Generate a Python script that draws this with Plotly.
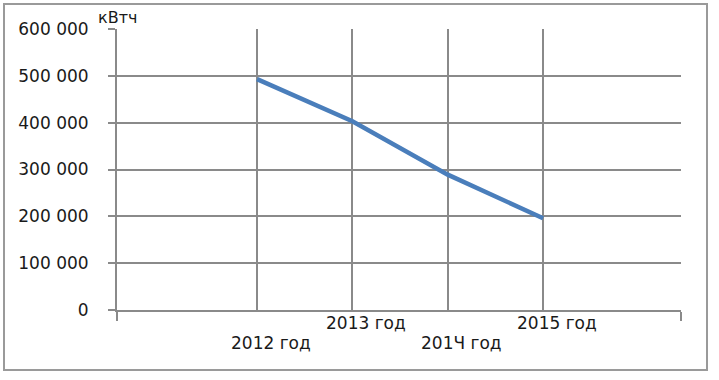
import plotly.graph_objects as go

years = [2012, 2013, 2014, 2015]
year_labels = ["2012 год", "2013 год", "201Ч год", "2015 год"]
energy_kwh = [493000, 403000, 289000, 196000]
y_ticks = [0, 100000, 200000, 300000, 400000, 500000, 600000]
y_tick_labels = ["0", "100 000", "200 000", "300 000", "400 000", "500 000", "600 000"]
unit_label = "кВтч"

GRID = "#8a8a8a"
FONT = "DejaVu Sans"
x_range = [2010.531, 2016.447]

fig = go.Figure()
fig.add_trace(go.Scatter(
    x=years, y=energy_kwh, mode="lines",
    line=dict(color="#4a7ebb", width=4.5),
    showlegend=False, hoverinfo="skip",
))

fig.update_layout(
    width=719, height=380,
    margin=dict(l=117, r=38, t=29, b=70),
    paper_bgcolor="white", plot_bgcolor="white",
    font=dict(family=FONT, size=16, color="#1a1a1a"),
    xaxis=dict(
        range=x_range, tickmode="array", tickvals=x_range,
        showticklabels=False, ticks="outside", ticklen=9, tickwidth=2, tickcolor=GRID,
        showgrid=False, zeroline=False,
        showline=True, linecolor=GRID, linewidth=2,
        minor=dict(tickmode="array", tickvals=years, showgrid=True,
                   gridcolor=GRID, gridwidth=2, ticks=""),
    ),
    yaxis=dict(
        range=[0, 600000], tickmode="array", tickvals=y_ticks, ticktext=y_tick_labels,
        showgrid=True, gridcolor=GRID, gridwidth=2, zeroline=False,
        showline=True, linecolor=GRID, linewidth=2,
        ticks="outside", ticklen=7, tickwidth=2, tickcolor=GRID,
        ticklabelstandoff=16,
        tickfont=dict(family=FONT, size=17, color="#1a1a1a"),
    ),
)

for i, (yr, lab) in enumerate(zip(years, year_labels)):
    fig.add_annotation(
        x=yr, y=0, xref="x", yref="y", text=lab, showarrow=False,
        xanchor="center", yanchor="middle", xshift=14,
        yshift=-33 if i % 2 == 0 else -13,
        font=dict(family=FONT, size=17, color="#1a1a1a"),
    )

fig.add_annotation(
    x=0, y=1, xref="paper", yref="paper", text=unit_label, showarrow=False,
    xanchor="center", yanchor="middle", yshift=12,
    font=dict(family=FONT, size=16, color="#1a1a1a"),
)

fig.add_shape(
    type="rect", xref="paper", yref="paper",
    x0=(4 - 117) / 564, x1=(707 - 117) / 564,
    y0=(310 - 370) / 281, y1=(310 - 4) / 281,
    line=dict(color="#9a9a9a", width=2), fillcolor="rgba(0,0,0,0)",
)

fig.write_html("out.html", config={"displayModeBar": False},
               post_script="document.body.style.margin='0';")
